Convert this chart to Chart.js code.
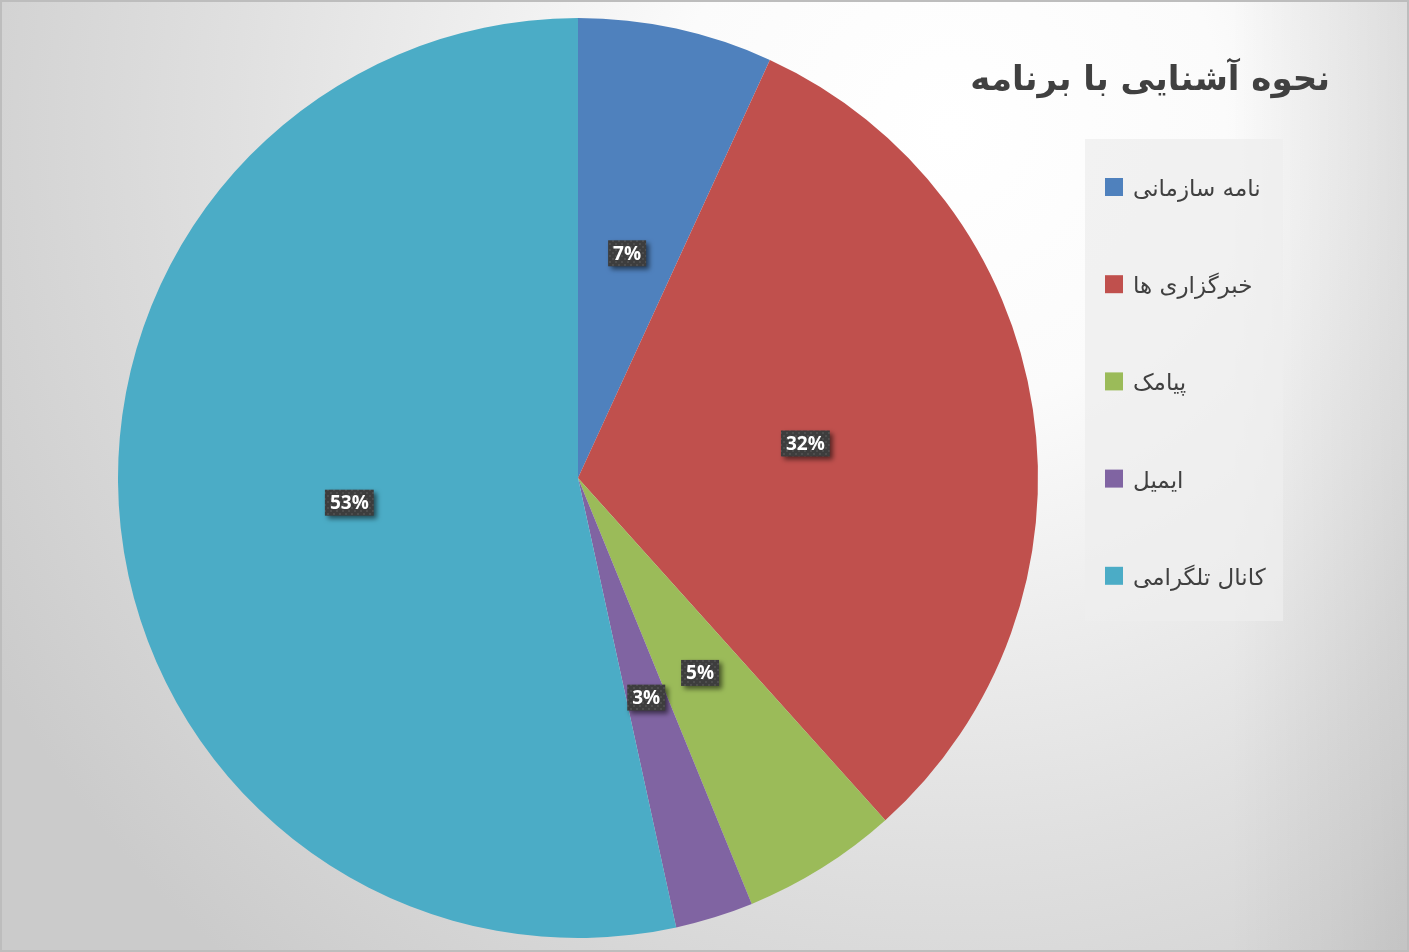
<!DOCTYPE html>
<html>
<head>
<meta charset="utf-8">
<script src="https://cdn.jsdelivr.net/npm/chart.js@4.4.1/dist/chart.umd.min.js"></script>
<style>
  body { margin: 0; background: #fff; }
  .chart-box { width: 1409px; height: 952px; position: relative; }
</style>
</head>
<body>
<div class="chart-box"><canvas id="myChart"></canvas></div>
<script>
// data
var titleText = "نحوه آشنایی با برنامه";
var xValues = ["نامه سازمانی", "خبرگزاری ها", "پیامک", "ایمیل", "کانال تلگرامی"];
var yValues = [10, 46, 8, 4, 78];
var sliceColors = ["#4f81bd", "#c0504d", "#9bbb59", "#8064a2", "#4bacc6"];

// background gradient + frame
const bgPlugin = {
  id: 'bg',
  beforeDraw(chart) {
    const ctx = chart.ctx;
    const w = chart.width, h = chart.height;
    ctx.save();
    var g = ctx.createRadialGradient(950, 130, 0, 950, 130, 1100);
    g.addColorStop(0, '#ffffff');
    g.addColorStop(0.25, '#fbfbfb');
    g.addColorStop(0.65, '#e0e0e0');
    g.addColorStop(1, '#cbcbcb');
    ctx.fillStyle = g;
    ctx.fillRect(0, 0, w, h);
    var g2 = ctx.createLinearGradient(1230, 0, w, 0);
    g2.addColorStop(0, 'rgba(0,0,0,0)');
    g2.addColorStop(1, 'rgba(0,0,0,0.08)');
    ctx.fillStyle = g2;
    ctx.fillRect(1230, 0, w - 1230, h);
    ctx.strokeStyle = '#bdbdbd';
    ctx.lineWidth = 2;
    ctx.strokeRect(1, 1, w - 2, h - 2);
    ctx.restore();
  }
};

// title and legend on the right
const sidePlugin = {
  id: 'side',
  afterDraw(chart) {
    const ctx = chart.ctx;
    ctx.save();
    ctx.fillStyle = '#404040';
    ctx.font = 'bold 34px "DejaVu Sans"';
    ctx.direction = 'rtl';
    ctx.textAlign = 'right';
    ctx.textBaseline = 'alphabetic';
    ctx.fillText(titleText, 1330, 90);

    // legend box
    ctx.fillStyle = 'rgba(237,237,237,0.75)';
    ctx.fillRect(1085, 139, 198, 482);
    ctx.font = '23px "DejaVu Sans"';
    ctx.textAlign = 'left';
    for (var i = 0; i < xValues.length; i++) {
      var y = 178 + i * 97.2;
      ctx.fillStyle = chart.data.datasets[0].backgroundColor[i];
      ctx.fillRect(1105, y, 18, 18);
      ctx.fillStyle = '#404040';
      ctx.fillText(xValues[i], 1133, y + 18);
    }
    ctx.restore();
  }
};

// dotted dark label boxes
var patCanvas = document.createElement('canvas');
patCanvas.width = 6; patCanvas.height = 6;
var pc = patCanvas.getContext('2d');
pc.fillStyle = '#3d3d3d';
pc.fillRect(0, 0, 6, 6);
pc.fillStyle = '#4d4d4d';
pc.fillRect(0, 0, 2, 2);
pc.fillRect(3, 3, 2, 2);

const labelPlugin = {
  id: 'pctLabels',
  afterDatasetsDraw(chart) {
    const ctx = chart.ctx;
    const meta = chart.getDatasetMeta(0);
    const total = yValues.reduce((a, b) => a + b, 0);
    ctx.save();
    ctx.font = 'bold 19px "Open Sans"';
    ctx.textAlign = 'center';
    ctx.textBaseline = 'middle';
    meta.data.forEach((arc, i) => {
      const p = arc.getCenterPoint();
      const txt = Math.round(yValues[i] / total * 100) + '%';
      const tw = ctx.measureText(txt).width;
      const bw = tw + 10, bh = 26;
      ctx.save();
      ctx.shadowColor = 'rgba(0,0,0,0.55)';
      ctx.shadowBlur = 5;
      ctx.shadowOffsetX = 3;
      ctx.shadowOffsetY = 3;
      ctx.fillStyle = ctx.createPattern(patCanvas, 'repeat');
      ctx.fillRect(p.x - bw / 2, p.y - bh / 2, bw, bh);
      ctx.restore();
      ctx.fillStyle = '#ffffff';
      ctx.fillText(txt, p.x, p.y + 1);
    });
    ctx.restore();
  }
};

const data = {
  labels: xValues,
  datasets: [{
    data: yValues,
    backgroundColor: sliceColors,
    borderWidth: 0,
    hoverOffset: 0,
  }]
};

// config
const config = {
  type: 'pie',
  data: data,
  options: {
    responsive: true,
    maintainAspectRatio: false,
    animation: false,
    events: [],
    layout: { padding: { left: 118, right: 371, top: 18, bottom: 14 } },
    plugins: {
      legend: false,
      tooltip: { enabled: false },
    },
  },
  plugins: [bgPlugin, labelPlugin, sidePlugin],
};

const myChart = new Chart(
  document.getElementById('myChart'),
  config
);
</script>
</body>
</html>
